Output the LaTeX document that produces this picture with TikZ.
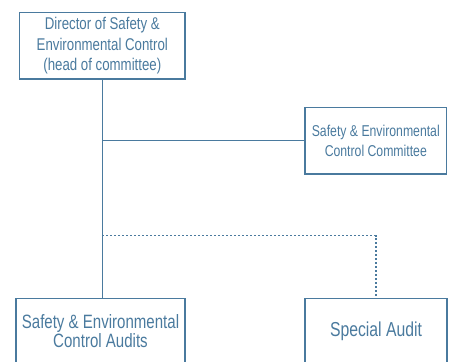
\documentclass[tikz,border=0pt]{standalone}
\usepackage{fontspec}
\setmainfont{Liberation Sans}[FakeStretch=0.78]
\definecolor{org}{RGB}{74,122,158}
\begin{document}
\begin{tikzpicture}[x=1pt,y=-1pt,
  box/.style={draw=org, line width=1.2pt, inner sep=0pt, text=org, align=center},
  link/.style={draw=org, line width=1.1pt},
  dotlink/.style={draw=org, line width=1.1pt, dash pattern=on 2pt off 2pt}]
\useasboundingbox (0,0) rectangle (449,361);
\clip (0,0) rectangle (449,361);
\node[box, minimum width=165.5pt, minimum height=66.7pt, font=\fontsize{17}{20.5}\selectfont] (dir) at (102.3,45.7)
  {Director of Safety \&\\Environmental Control\\(head of committee)};
\node[box, minimum width=141.7pt, minimum height=66.3pt, font=\fontsize{15.7}{20.6}\selectfont] (com) at (375.8,140.8)
  {Safety \& Environmental\\Control Committee};
\node[box, minimum width=169pt, minimum height=65pt, font=\fontsize{19.3}{19.4}\selectfont] (aud) at (100.5,330.8)
  {Safety \& Environmental\\Control Audits};
\node[box, minimum width=142pt, minimum height=65pt, font=\fontsize{20.2}{22}\selectfont] (spec) at (376,330.8)
  {Special Audit};
\coordinate (j1) at (dir.south |- com.west);
\coordinate (j2) at (dir.south |- 0,235.7);
\draw[link] (dir.south) -- (dir.south |- aud.north);
\draw[link] (j1) -- (com.west);
\draw[dotlink] (j2) -| (spec.north);
\end{tikzpicture}
\end{document}
